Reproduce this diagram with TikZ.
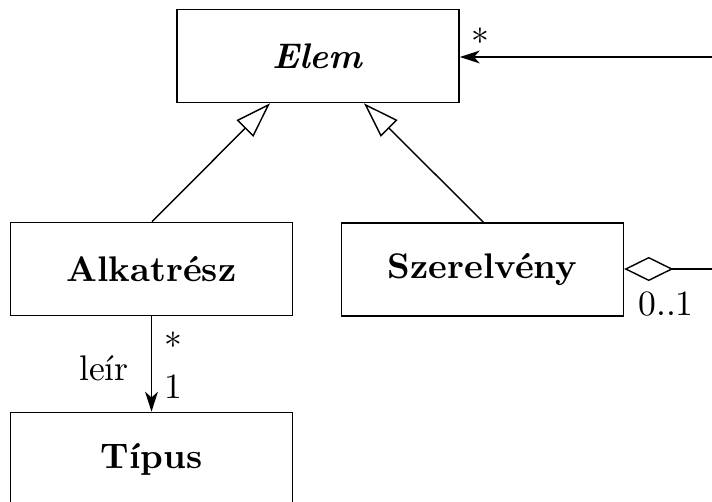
\documentclass[tikz,border=0pt]{standalone}
\usetikzlibrary{arrows.meta}
\tikzset{
  cls/.style={draw, line width=0.4pt, minimum width=79.3pt, minimum height=26.2pt, inner sep=0pt, font=\bfseries},
  lbl/.style={inner sep=0pt},
  conn/.style={line width=0.4pt},
  gen/.style={conn, -{Triangle[open,length=10pt,width=6.6pt]}},
  nav/.style={conn, -{Stealth[length=5.6pt,width=3.6pt,inset=1.6pt]}},
  agg/.style={conn, {Diamond[open,length=13.8pt,width=6.8pt]}-}
}
\begin{document}
\begin{tikzpicture}[x=0.281pt, y=-0.281pt]
  \useasboundingbox (0,0) rectangle (712,501);
  \clip (0,0) rectangle (712,501);
  % classes
  \node[cls] (elem) at (318,56) {\textit{Elem}};
  \node[cls] (alk) at (151.5,269) {Alkatrész};
  \node[cls] (sze) at (482.4,269.5) {Szerelvény};
  \node[cls] (tip) at (151.5,459) {Típus};
  % loose ends running off to the right
  \coordinate (r1) at (720,57);
  \coordinate (r2) at (720,269);
  % generalisations
  \draw[gen] (alk.north) ++(0.5,0) coordinate (ga) -- (elem.south -| 270,0);
  \draw[gen] (sze.north) ++(1,0) coordinate (gs) -- (elem.south -| 364,0);
  % associations
  \draw[nav] (r1) -- (elem.east |- r1);
  \draw[agg] (sze.east |- r2) -- (r2);
  \draw[nav] (alk.south) -- (tip.north);
  % multiplicities and role names
  \node[lbl] (m1) at (480,36) {$*$};
  \node[lbl] (m2) at (666,304) {0..1};
  \node[lbl] (m3) at (173,340) {$*$};
  \node[lbl] (m4) at (173,387) {1};
  \node[lbl] (m5) at (104,368) {leír};
\end{tikzpicture}
\end{document}
